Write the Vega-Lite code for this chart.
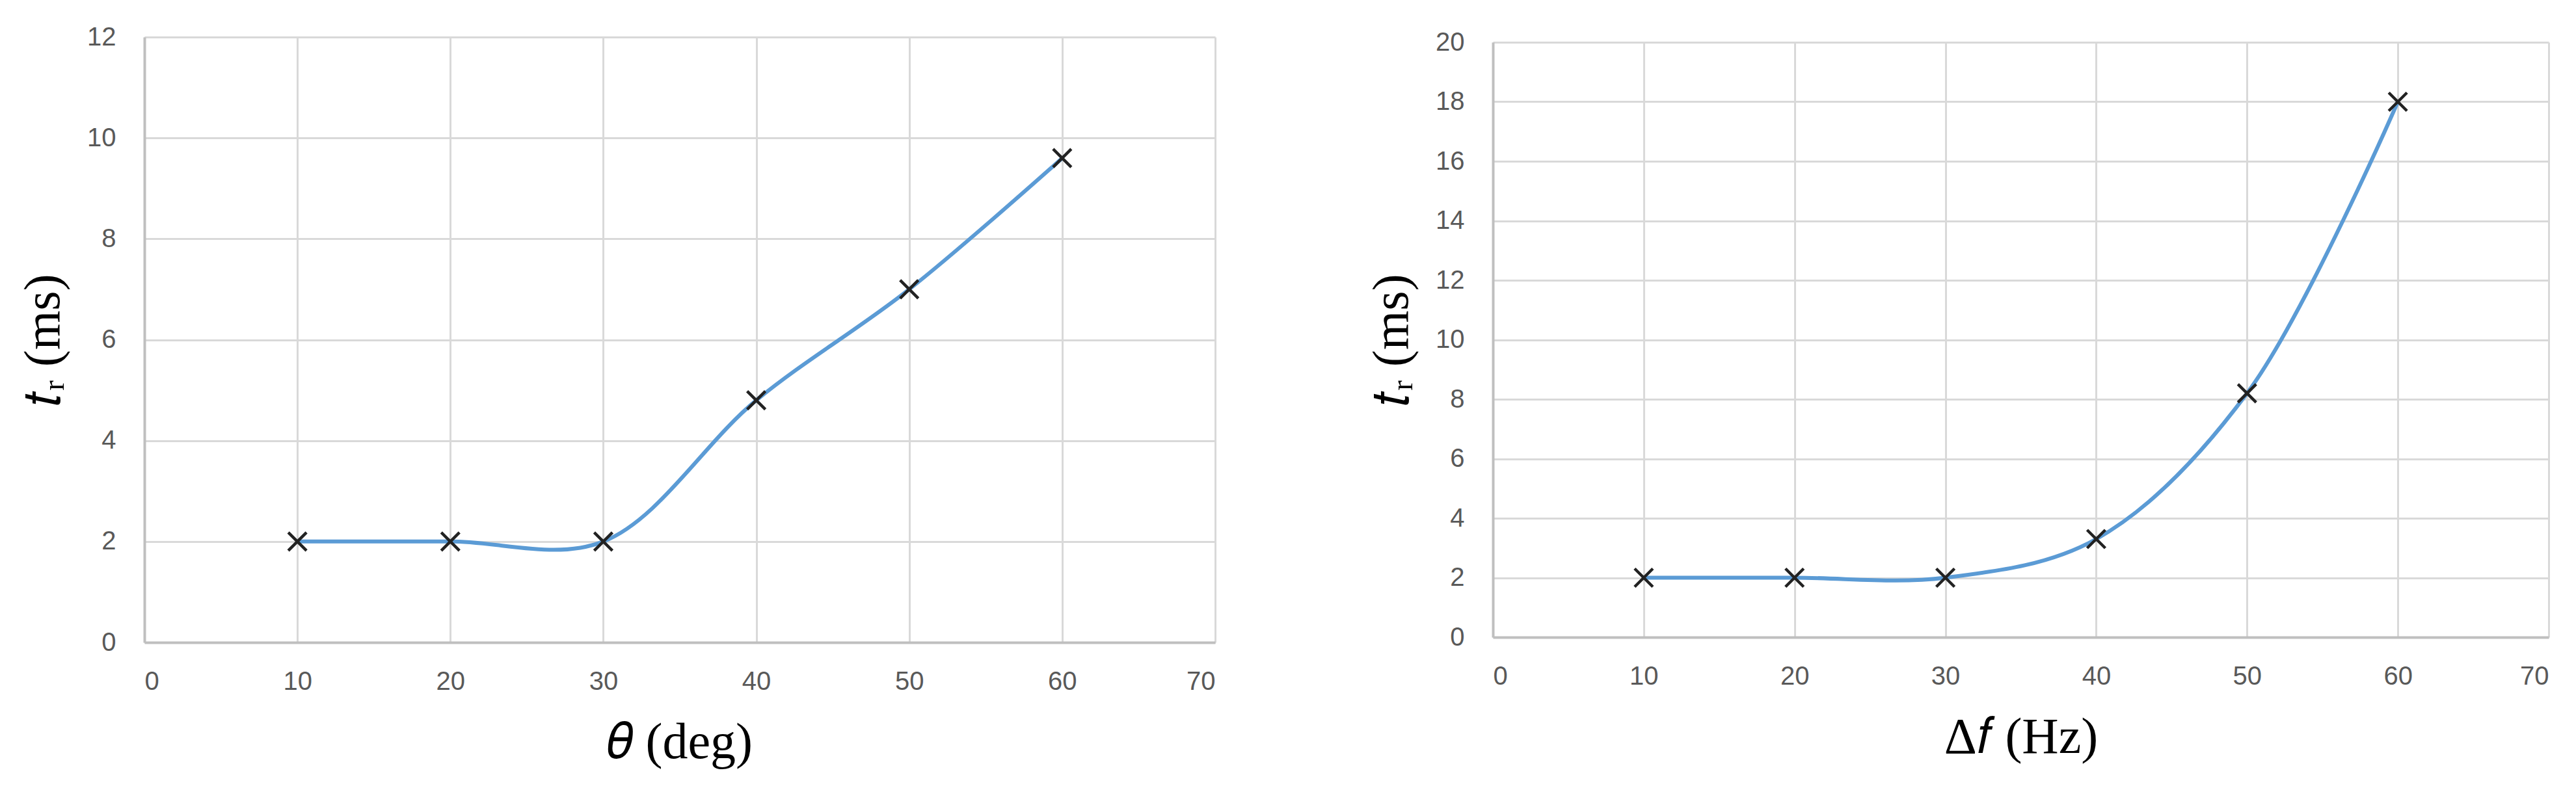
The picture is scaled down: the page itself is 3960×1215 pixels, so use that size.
{
  "$schema": "https://vega.github.io/schema/vega-lite/v6.json",
  "background": "white",
  "padding": {"left": 28, "top": 37, "right": 10, "bottom": 10},
  "datasets": {
    "theta": [
      {"x": 10, "y": 2.0},
      {"x": 20, "y": 2.0},
      {"x": 30, "y": 2.0},
      {"x": 40, "y": 4.8},
      {"x": 50, "y": 7.0},
      {"x": 60, "y": 9.6}
    ],
    "df": [
      {"x": 10, "y": 2.0},
      {"x": 20, "y": 2.0},
      {"x": 30, "y": 2.0},
      {"x": 40, "y": 3.3},
      {"x": 50, "y": 8.2},
      {"x": 60, "y": 18.0}
    ]
  },
  "config": {
    "view": {"stroke": null},
    "axis": {
      "labelFont": "Liberation Sans",
      "labelFontSize": 40,
      "labelColor": "#595959",
      "titleFont": "Liberation Serif",
      "titleFontSize": 78,
      "titleFontWeight": "normal",
      "titleColor": "#000000",
      "ticks": false,
      "grid": true,
      "gridColor": "#D9D9D9",
      "gridWidth": 3,
      "domainColor": "#BFBFBF",
      "domainWidth": 4
    },
    "axisX": {"labelPadding": 40, "titlePadding": 35},
    "axisY": {"labelPadding": 44, "titlePadding": 27}
  },
  "spacing": 233,
  "center": true,
  "hconcat": [
    {
      "width": 1646,
      "height": 931,
      "data": {"name": "theta"},
      "encoding": {
        "x": {"field": "x", "type": "quantitative", "scale": {"domain": [0, 70], "nice": false}, "axis": {"values": [0,10,20,30,40,50,60,70], "title": "𝜃 (deg)"}},
        "y": {"field": "y", "type": "quantitative", "scale": {"domain": [0, 12], "nice": false}, "axis": {"values": [0,2,4,6,8,10,12], "title": "𝑡ᵣ (ms)"}}
      },
      "layer": [
        {"mark": {"type": "line", "interpolate": "catmull-rom", "color": "#5B9BD5", "strokeWidth": 6}},
        {"mark": {"type": "point", "shape": "M-1,-1L1,1M-1,1L1,-1", "size": 784, "stroke": "#222222", "strokeWidth": 4.5, "filled": false, "opacity": 1}}
      ]
    },
    {
      "width": 1623,
      "height": 915,
      "data": {"name": "df"},
      "encoding": {
        "x": {"field": "x", "type": "quantitative", "scale": {"domain": [0, 70], "nice": false}, "axis": {"values": [0,10,20,30,40,50,60,70], "title": "Δ𝑓 (Hz)"}},
        "y": {"field": "y", "type": "quantitative", "scale": {"domain": [0, 20], "nice": false}, "axis": {"values": [0,2,4,6,8,10,12,14,16,18,20], "title": "𝑡ᵣ (ms)"}}
      },
      "layer": [
        {"mark": {"type": "line", "interpolate": "catmull-rom", "color": "#5B9BD5", "strokeWidth": 6}},
        {"mark": {"type": "point", "shape": "M-1,-1L1,1M-1,1L1,-1", "size": 784, "stroke": "#222222", "strokeWidth": 4.5, "filled": false, "opacity": 1}}
      ]
    }
  ]
}
